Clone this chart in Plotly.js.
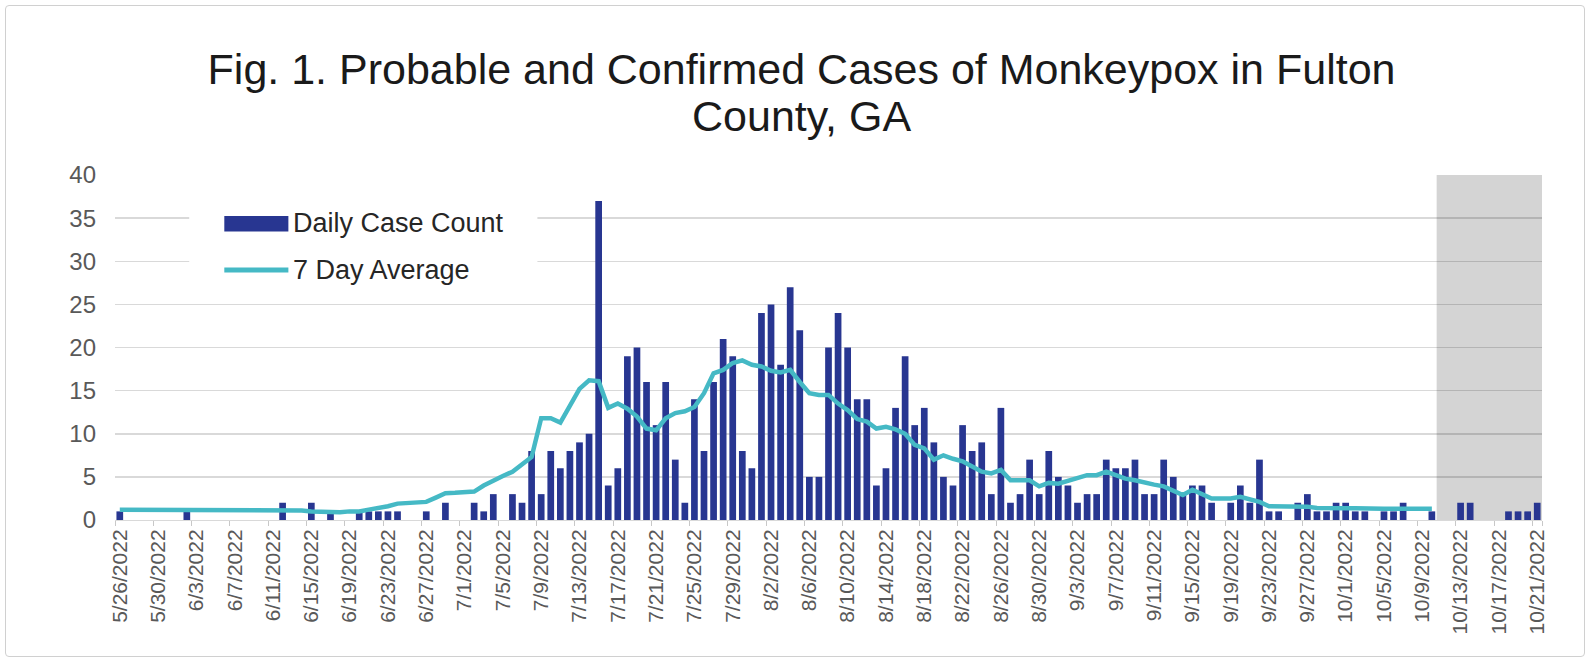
<!DOCTYPE html>
<html>
<head>
<meta charset="utf-8">
<script src="https://cdn.plot.ly/plotly-3.0.1.min.js"></script>
<style>
  html, body { margin: 0; padding: 0; background: #ffffff; }
  #frame { position: absolute; left: 5px; top: 5px; width: 1578px; height: 650px;
           border: 1px solid #d0d0d0; border-radius: 4px; pointer-events: none; z-index: 2; }
  #chart { position: absolute; left: 0; top: 0; width: 1591px; height: 664px; }
</style>
</head>
<body>
<div id="chart"></div>
<div id="frame"></div>
<script>
const dates = [
  "5/26/2022","5/27/2022","5/28/2022","5/29/2022","5/30/2022","5/31/2022",
  "6/1/2022","6/2/2022","6/3/2022","6/4/2022","6/5/2022","6/6/2022","6/7/2022","6/8/2022","6/9/2022","6/10/2022",
  "6/11/2022","6/12/2022","6/13/2022","6/14/2022","6/15/2022","6/16/2022","6/17/2022","6/18/2022","6/19/2022","6/20/2022",
  "6/21/2022","6/22/2022","6/23/2022","6/24/2022","6/25/2022","6/26/2022","6/27/2022","6/28/2022","6/29/2022","6/30/2022",
  "7/1/2022","7/2/2022","7/3/2022","7/4/2022","7/5/2022","7/6/2022","7/7/2022","7/8/2022","7/9/2022","7/10/2022",
  "7/11/2022","7/12/2022","7/13/2022","7/14/2022","7/15/2022","7/16/2022","7/17/2022","7/18/2022","7/19/2022","7/20/2022",
  "7/21/2022","7/22/2022","7/23/2022","7/24/2022","7/25/2022","7/26/2022","7/27/2022","7/28/2022","7/29/2022","7/30/2022",
  "7/31/2022","8/1/2022","8/2/2022","8/3/2022","8/4/2022","8/5/2022","8/6/2022","8/7/2022","8/8/2022","8/9/2022",
  "8/10/2022","8/11/2022","8/12/2022","8/13/2022","8/14/2022","8/15/2022","8/16/2022","8/17/2022","8/18/2022","8/19/2022",
  "8/20/2022","8/21/2022","8/22/2022","8/23/2022","8/24/2022","8/25/2022","8/26/2022","8/27/2022","8/28/2022","8/29/2022",
  "8/30/2022","8/31/2022","9/1/2022","9/2/2022","9/3/2022","9/4/2022","9/5/2022","9/6/2022","9/7/2022","9/8/2022",
  "9/9/2022","9/10/2022","9/11/2022","9/12/2022","9/13/2022","9/14/2022","9/15/2022","9/16/2022","9/17/2022","9/18/2022",
  "9/19/2022","9/20/2022","9/21/2022","9/22/2022","9/23/2022","9/24/2022","9/25/2022","9/26/2022","9/27/2022","9/28/2022",
  "9/29/2022","9/30/2022","10/1/2022","10/2/2022","10/3/2022","10/4/2022","10/5/2022","10/6/2022","10/7/2022","10/8/2022",
  "10/9/2022","10/10/2022","10/11/2022","10/12/2022","10/13/2022","10/14/2022","10/15/2022","10/16/2022","10/17/2022","10/18/2022",
  "10/19/2022","10/20/2022","10/21/2022"
];

// Daily case counts (one per date above)
const dailyCases = [
  1,0,0,0,0,0,0,1,0,0, 0,0,0,0,0,0,0,2,0,0,
  2,0,1,0,0,1,1,1,1,1, 0,0,1,0,2,0,0,2,1,3,
  0,3,2,8,3,8,6,8,9,10, 37,4,6,19,20,16,11,16,7,2,
  14,8,16,21,19,8,6,24,25,18, 27,22,5,5,20,24,20,14,14,4,
  6,13,19,11,13,9,5,4,11,8, 9,3,13,2,3,7,3,8,5,4,
  2,3,3,7,6,6,7,3,3,7, 5,3,4,4,2,0,2,4,2,7,
  1,1,0,2,3,1,1,2,2,1, 1,0,1,1,2,0,0,1,0,0,
  2,2,0,0,0,1,1,1,2
];

// 7 day average (5/26 through 10/10)
const sevenDayAvg = [
  1.2,1.2,1.2,1.2,1.2,1.2,1.2,1.2,1.2,1.2, 1.2,1.2,1.2,1.2,1.2,1.2,1.2,1.2,1.15,1.1,
  1.0,0.95,0.9,0.9,1.0,1.0,1.2,1.35,1.6,1.9, 2.0,2.05,2.1,2.6,3.1,3.15,3.2,3.3,4.0,4.6,
  5.1,5.6,6.4,7.3,11.8,11.8,11.3,13.3,15.2,16.2, 16.1,13.0,13.5,12.9,12.0,10.6,10.4,11.8,12.4,12.6,
  13.1,14.7,17.0,17.4,18.2,18.5,18.0,17.8,17.3,17.1, 17.4,16.0,14.7,14.5,14.5,13.5,12.75,11.7,11.4,10.6,
  10.8,10.5,10.0,8.7,8.3,7.0,7.5,7.1,6.8,6.2, 5.6,5.4,5.8,4.6,4.6,4.6,3.9,4.3,4.2,4.5,
  4.8,5.2,5.2,5.6,5.2,4.8,4.6,4.3,4.1,3.9, 3.4,2.9,3.5,3.0,2.5,2.5,2.5,2.7,2.4,2.1,
  1.6,1.6,1.6,1.55,1.55,1.4,1.35,1.35,1.35,1.35, 1.3,1.3,1.3,1.3,1.3,1.3,1.3,1.3
];

const tickLabels = dates.filter((d, i) => i % 4 === 0);
const seriesNames = ['Daily Case Count', '7 Day Average'];
const titleLines = ['Fig. 1. Probable and Confirmed Cases of Monkeypox in Fulton', 'County, GA'];

const FONT = '"Liberation Sans", Arial, sans-serif';
const BAR_COLOR = '#283691';
const LINE_COLOR = '#45b9c5';

const traces = [
  {
    type: 'bar',
    name: seriesNames[0],
    x: dates,
    y: dailyCases,
    marker: { color: BAR_COLOR },
    hoverinfo: 'x+y'
  },
  {
    type: 'scatter',
    mode: 'lines',
    name: seriesNames[1],
    x: dates.slice(0, sevenDayAvg.length),
    y: sevenDayAvg,
    line: { color: LINE_COLOR, width: 4.5 },
    hoverinfo: 'x+y'
  }
];

const layout = {
  width: 1591,
  height: 664,
  margin: { l: 115, r: 49, t: 175, b: 144 },
  paper_bgcolor: '#ffffff',
  plot_bgcolor: '#ffffff',
  font: { family: FONT, color: '#595959' },
  bargap: 0.3,
  showlegend: false,
  title: {
    text: titleLines[0],
    font: { family: FONT, size: 43, color: '#1a1a1a' },
    xref: 'container', x: 0.5038, xanchor: 'center',
    yref: 'container', y: 0.896, yanchor: 'middle'
  },
  xaxis: {
    type: 'category',
    categoryorder: 'array',
    categoryarray: dates,
    tickmode: 'array',
    tickvals: tickLabels,
    ticktext: tickLabels,
    tickangle: -90,
    tickson: 'boundaries',
    ticks: 'outside',
    ticklen: 5,
    tickcolor: '#c8c8c8',
    showgrid: false,
    showline: true,
    linecolor: '#d9d9d9',
    linewidth: 1,
    tickfont: { family: FONT, size: 21, color: '#595959' },
    range: [-0.5, 148.5],
    fixedrange: true
  },
  yaxis: {
    range: [0, 40],
    tickmode: 'linear',
    tick0: 0,
    dtick: 5,
    showgrid: true,
    gridcolor: 'rgba(0,0,0,0.15)',
    gridwidth: 1.5,
    zeroline: false,
    showline: false,
    ticks: '',
    ticklabelstandoff: 18,
    tickfont: { family: FONT, size: 24, color: '#595959' },
    fixedrange: true
  },
  shapes: [
    // shaded (incomplete data) period
    { type: 'rect', xref: 'x', yref: 'y', x0: 137.5, x1: 148.8, y0: 0, y1: 40,
      fillcolor: '#d4d4d4', line: { width: 0 }, layer: 'below' },
    // legend background
    { type: 'rect', xref: 'paper', yref: 'paper', x0: 0.052, x1: 0.296, y0: 0.66, y1: 0.96,
      fillcolor: '#ffffff', line: { width: 0 }, layer: 'above' },
    // legend swatch: bars
    { type: 'rect', xref: 'paper', yref: 'paper', x0: 0.0766, x1: 0.1215, y0: 0.8362, y1: 0.881,
      fillcolor: BAR_COLOR, line: { width: 0 }, layer: 'above' },
    // legend swatch: line
    { type: 'line', xref: 'paper', yref: 'paper', x0: 0.0766, x1: 0.1215, y0: 0.7246, y1: 0.7246,
      line: { color: LINE_COLOR, width: 5 }, layer: 'above' }
  ],
  annotations: [
    { text: titleLines[1], xref: 'paper', yref: 'paper', x: 0.4811, y: 1.172,
      xanchor: 'center', yanchor: 'middle', showarrow: false,
      font: { family: FONT, size: 43, color: '#1a1a1a' } },
    { text: seriesNames[0], xref: 'paper', yref: 'paper', x: 0.1235, y: 0.8623,
      xanchor: 'left', yanchor: 'middle', showarrow: false,
      font: { family: FONT, size: 27, color: '#262626' } },
    { text: seriesNames[1], xref: 'paper', yref: 'paper', x: 0.1235, y: 0.7246,
      xanchor: 'left', yanchor: 'middle', showarrow: false,
      font: { family: FONT, size: 27, color: '#262626' } }
  ]
};

Plotly.newPlot('chart', traces, layout, { displayModeBar: false, staticPlot: true });
</script>
</body>
</html>
